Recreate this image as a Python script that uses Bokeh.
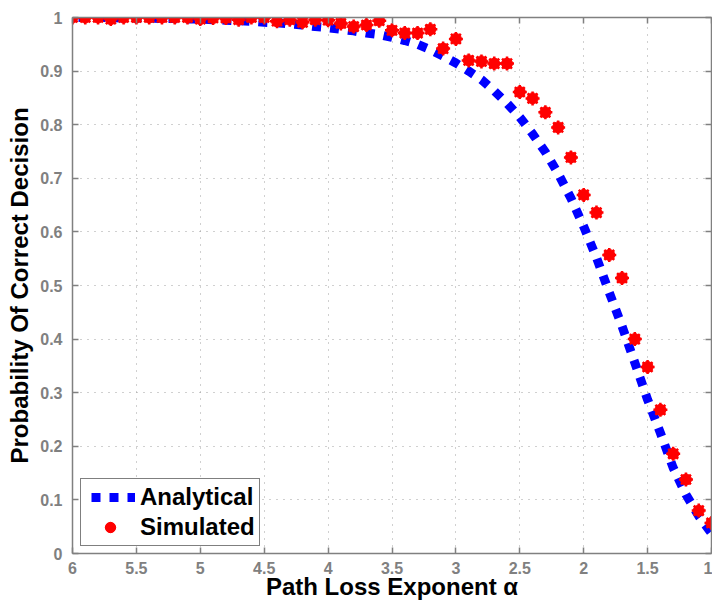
from bokeh.plotting import figure
from bokeh.models import Range1d, LinearAxis, FixedTicker, Legend, LegendItem, CustomLabelingPolicy
from bokeh.embed import file_html
from bokeh.resources import INLINE

alpha = [6.0, 5.9, 5.8, 5.7, 5.6, 5.5, 5.4, 5.3, 5.2, 5.1,
         5.0, 4.9, 4.8, 4.7, 4.6, 4.5, 4.4, 4.3, 4.2, 4.1,
         4.0, 3.9, 3.8, 3.7, 3.6, 3.5, 3.4, 3.3, 3.2, 3.1,
         3.0, 2.9, 2.8, 2.7, 2.6, 2.5, 2.4, 2.3, 2.2, 2.1,
         2.0, 1.9, 1.8, 1.7, 1.6, 1.5, 1.4, 1.3, 1.2, 1.1, 1.0]

analytical = [1.000, 1.000, 1.000, 1.000, 0.999, 0.999, 0.999, 0.998, 0.998, 0.997,
              0.997, 0.996, 0.995, 0.994, 0.993, 0.991, 0.990, 0.988, 0.986, 0.983,
              0.981, 0.978, 0.975, 0.971, 0.968, 0.963, 0.957, 0.950, 0.940, 0.928,
              0.915, 0.900, 0.884, 0.863, 0.840, 0.814, 0.783, 0.749, 0.709, 0.663,
              0.610, 0.552, 0.487, 0.424, 0.356, 0.287, 0.225, 0.160, 0.110, 0.070, 0.038]

simulated = [1.000, 1.000, 1.000, 0.997, 1.000, 1.000, 1.000, 1.000, 1.000, 1.000,
             0.997, 0.999, 0.999, 0.996, 1.000, 1.000, 0.993, 0.996, 0.991, 0.996,
             0.995, 0.989, 0.983, 0.986, 0.994, 0.976, 0.971, 0.971, 0.978, 0.942,
             0.960, 0.920, 0.918, 0.914, 0.914, 0.861, 0.849, 0.823, 0.795, 0.739,
             0.669, 0.636, 0.557, 0.514, 0.400, 0.348, 0.268, 0.186, 0.138, 0.080, 0.057]

x_ticks = [6, 5.5, 5, 4.5, 4, 3.5, 3, 2.5, 2, 1.5, 1]
x_tick_labels = ["6", "5.5", "5", "4.5", "4", "3.5", "3", "2.5", "2", "1.5", "1"]
y_ticks = [0, 0.1, 0.2, 0.3, 0.4, 0.5, 0.6, 0.7, 0.8, 0.9, 1]
y_tick_labels = ["0", "0.1", "0.2", "0.3", "0.4", "0.5", "0.6", "0.7", "0.8", "0.9", "1"]

FONT = "Liberation Sans"
AXIS_GRAY = "#808080"

p = figure(width=712, height=602, x_range=Range1d(6, 1), y_range=Range1d(0, 1),
           output_backend="svg", toolbar_location=None,
           min_border_left=72, min_border_right=1, min_border_top=17, min_border_bottom=49,
           x_axis_label="Path Loss Exponent α", y_axis_label="Probability Of Correct Decision")
p.outline_line_color = None
p.background_fill_color = "white"
p.border_fill_color = "white"

def style_axis(ax, ticks, labels, label_size="16px"):
    ax.ticker = FixedTicker(ticks=ticks)
    ax.major_label_overrides = {t: l for t, l in zip(ticks, labels)}
    ax.axis_line_color = AXIS_GRAY
    ax.axis_line_width = 1.5
    ax.major_tick_line_color = AXIS_GRAY
    ax.major_tick_line_width = 1.5
    ax.major_tick_in = 6
    ax.major_tick_out = 0
    ax.minor_tick_line_color = None
    ax.major_label_text_font = FONT
    ax.major_label_text_font_style = "bold"
    ax.major_label_text_color = AXIS_GRAY
    ax.major_label_text_font_size = label_size
    ax.axis_label_text_font = FONT
    ax.axis_label_text_font_style = "bold"
    ax.axis_label_text_color = "black"
    ax.axis_label_text_font_size = "24px"

style_axis(p.xaxis[0], x_ticks, x_tick_labels)
style_axis(p.yaxis[0], y_ticks, y_tick_labels)
p.xaxis[0].major_label_standoff = 8
p.xaxis[0].axis_label_standoff = -4
p.yaxis[0].major_label_standoff = 10
p.yaxis[0].axis_label_standoff = 4

# box edges on top and right: inward ticks, no labels drawn
no_labels = CustomLabelingPolicy(code="return new Set()")
top_ax = LinearAxis()
right_ax = LinearAxis()
style_axis(top_ax, x_ticks, x_tick_labels, label_size="0px")
style_axis(right_ax, y_ticks, y_tick_labels, label_size="0px")
for ax in (top_ax, right_ax):
    ax.major_label_policy = no_labels
    ax.major_label_standoff = 0
p.add_layout(top_ax, "above")
p.add_layout(right_ax, "right")

for g, t in ((p.xgrid[0], x_ticks), (p.ygrid[0], y_ticks)):
    g.ticker = FixedTicker(ticks=t)
    g.grid_line_color = "#a0a0a0"
    g.grid_line_dash = "1 6"
    g.grid_line_width = 1

r_line = p.line(alpha, analytical, line_color="#0000ff", line_width=9,
                line_dash="9 9", line_dash_offset=12, line_cap="butt")
r_circ = p.scatter(alpha, simulated, marker="circle", size=11,
                   fill_color="#ff0000", line_color="#ff0000", line_width=1)
r_star = p.scatter(alpha, simulated, marker="asterisk", size=14,
                   line_color="#ff0000", line_width=2.5)

legend = Legend(items=[LegendItem(label="Analytical", renderers=[r_line]),
                       LegendItem(label="Simulated", renderers=[r_circ, r_star])],
                location=(8, 7))
legend.label_text_font = FONT
legend.label_text_font_style = "bold"
legend.label_text_font_size = "24px"
legend.label_text_color = "black"
legend.border_line_color = "black"
legend.border_line_width = 1.5
legend.background_fill_color = "white"
legend.background_fill_alpha = 1
legend.glyph_width = 50
legend.glyph_height = 26
legend.label_standoff = 5
legend.padding = 4
legend.spacing = 2
legend.margin = 0
p.add_layout(legend)

open("out.html", "w").write(file_html(p, INLINE))
